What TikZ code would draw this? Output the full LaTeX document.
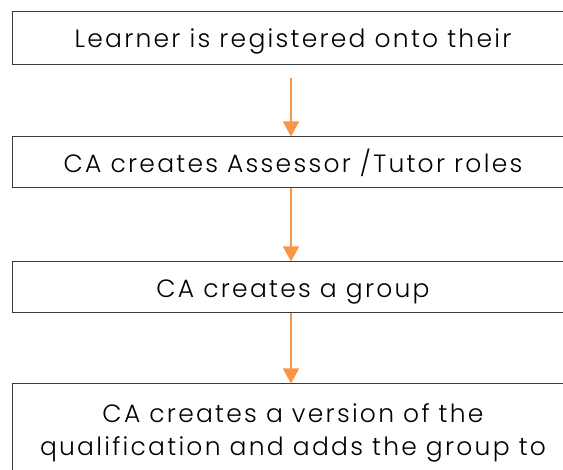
\documentclass[tikz,border=0pt]{standalone}
\usepackage{fontspec}
\setmainfont{Poppins Light}[Ligatures=NoCommon, LetterSpace=9]
\usetikzlibrary{arrows.meta}
\definecolor{boxline}{HTML}{3A3A3A}
\definecolor{arr}{HTML}{F79646}
\tikzset{
  stepbox/.style={draw=boxline, line width=1pt, rectangle, inner sep=0pt},
  lbl/.style={font=\fontsize{25}{33}\selectfont, text=black, anchor=base},
  flow/.style={draw=arr, line width=1.4pt, -{Triangle[width=16pt,length=15pt]}}
}
\begin{document}
\begin{tikzpicture}[x=1pt,y=-1pt]
\useasboundingbox (0,0) rectangle (563,470);
\clip (0,0) rectangle (563,470);
\node[stepbox, minimum width=560pt, minimum height=53pt] (b1) at (292,38.5) {};
\node[stepbox, minimum width=560pt, minimum height=51pt] (b2) at (292,162.5) {};
\node[stepbox, minimum width=560pt, minimum height=51pt] (b3) at (292,287.5) {};
\node[stepbox, minimum width=560pt, minimum height=120pt] (b4) at (292,444) {};
\node[lbl] (t1) at (293,48) {Learner is registered onto their};
\node[lbl] (t2) at (293,173) {CA creates Assessor /Tutor roles};
\node[lbl] (t3) at (293,298) {CA creates a group};
\node[lbl] (t4a) at (293,423) {CA creates a version of the};
\node[lbl] (t4b) at (293,456) {qualification and adds the group to};
\coordinate (s1) at (291,78);
\draw[flow] (s1) -- (s1 |- b2.north);
\draw[flow] (b2.south -| s1) -- (s1 |- b3.north);
\draw[flow] (b3.south -| s1) -- (s1 |- b4.north);
\end{tikzpicture}
\end{document}
